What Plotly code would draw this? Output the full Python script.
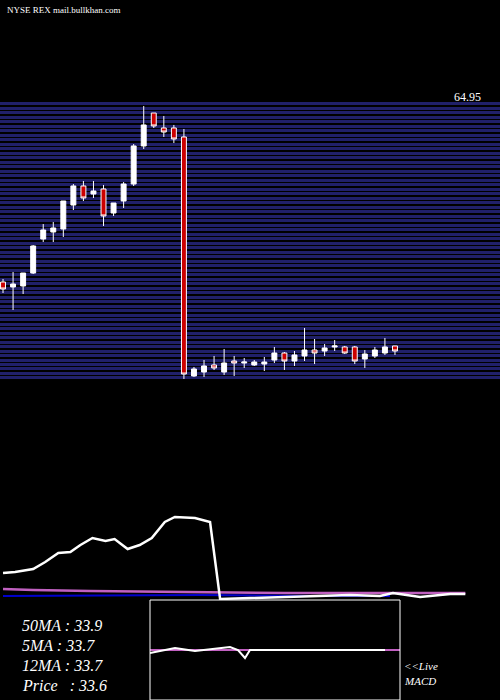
import plotly.graph_objects as go

# daily candles
opens = [42.37, 41.73, 41.86, 43.53, 47.92, 48.82, 49.21, 52.30, 54.76, 53.72,
         54.37, 51.27, 52.82, 55.01, 59.92, 64.17, 62.24, 62.24, 61.08, 30.25,
         30.76, 31.67, 30.76, 32.18, 31.92, 31.67, 31.79, 32.31, 33.21, 32.18,
         32.83, 33.60, 33.47, 33.99, 33.99, 33.99, 32.44, 32.83, 33.21, 34.12]
closes = [41.47, 42.11, 43.53, 47.02, 49.08, 49.34, 52.82, 54.76, 53.21, 54.11,
          50.89, 52.56, 55.01, 59.92, 62.63, 62.50, 61.72, 60.82, 30.50, 31.15,
          31.54, 31.28, 31.92, 31.92, 32.05, 32.05, 32.05, 33.21, 32.18, 32.96,
          33.60, 33.21, 33.86, 34.12, 33.21, 32.18, 33.08, 33.60, 33.99, 33.47]
highs = [42.76, 43.66, 43.53, 47.14, 49.85, 50.11, 52.82, 55.01, 55.40, 55.40,
         54.89, 52.56, 55.27, 60.17, 65.08, 64.17, 63.79, 62.63, 62.11, 31.41,
         32.31, 32.83, 33.73, 32.83, 32.57, 32.31, 32.70, 33.99, 33.34, 33.47,
         36.44, 35.02, 34.37, 34.89, 34.12, 34.12, 33.60, 33.99, 35.15, 34.12]
lows = [40.95, 38.76, 40.82, 43.40, 47.53, 47.53, 48.18, 51.66, 52.82, 53.21,
        49.60, 50.89, 51.92, 54.76, 59.53, 62.24, 61.08, 60.30, 29.86, 30.12,
        30.12, 31.02, 30.38, 30.25, 31.28, 31.54, 30.89, 31.92, 31.02, 31.54,
        32.18, 31.79, 32.83, 33.47, 33.08, 31.79, 31.28, 32.57, 32.96, 32.96]

# lower panel moving averages (unitless indicator scale)
ma_x = [0, 1.2, 3, 4.2, 5.5, 6.7, 7.7, 8.9, 10.2, 11.1, 12.4, 13.6, 14.8, 16.1,
        17.1, 19.1, 20.6, 21.6, 24.6, 28.6, 31.5, 34.5, 37.5, 38.8, 41.5, 44.5, 46]
ma_white = [63.5, 64, 65.5, 69, 73.5, 74, 77.5, 81, 79.5, 80.5, 75.5, 77.5, 81, 89,
            91.5, 91, 89, 50.5, 51, 51.5, 52, 52.5, 52, 53.5, 51.5, 53, 53]
ma_purple_x = [0, 3, 8.7, 21.6, 28, 46]
ma_purple = [55.5, 55, 54.5, 54, 53.5, 53.5]
ma_blue_x = [0, 19.6, 31, 38.5]
ma_blue = [52, 52.5, 52, 52]

# MACD inset
macd_x = [0, 2.5, 4.5, 8, 8.8, 9.5, 10, 23.5]
macd = [-0.06, 0.04, -0.02, 0.06, 0, -0.16, 0, 0]
signal_x = [0, 25]
signal = [0, 0]

labels = ["50MA : 33.9", "5MA : 33.7", "12MA : 33.7", "Price   : 33.6"]

fig = go.Figure()
fig.add_trace(go.Candlestick(
    x=list(range(len(opens))), open=opens, high=highs, low=lows, close=closes,
    increasing=dict(fillcolor="white", line=dict(color="white", width=1)),
    decreasing=dict(fillcolor="#cc0000", line=dict(color="white", width=1)),
    whiskerwidth=0, showlegend=False, xaxis="x", yaxis="y"))

fig.add_trace(go.Scatter(x=ma_purple_x, y=ma_purple, mode="lines",
                         line=dict(color="#c060c0", width=2.5), xaxis="x2", yaxis="y2"))
fig.add_trace(go.Scatter(x=ma_blue_x, y=ma_blue, mode="lines",
                         line=dict(color="#0000cc", width=2), xaxis="x2", yaxis="y2"))
fig.add_trace(go.Scatter(x=ma_x, y=ma_white, mode="lines",
                         line=dict(color="white", width=2.5), xaxis="x2", yaxis="y2"))

fig.add_trace(go.Scatter(x=signal_x, y=signal, mode="lines",
                         line=dict(color="#c060c0", width=2), xaxis="x3", yaxis="y3"))
fig.add_trace(go.Scatter(x=macd_x, y=macd, mode="lines",
                         line=dict(color="white", width=2), xaxis="x3", yaxis="y3"))

noax = dict(showgrid=False, zeroline=False, showticklabels=False, fixedrange=True)
fig.update_layout(
    width=500, height=700, margin=dict(l=0, r=0, t=0, b=0),
    paper_bgcolor="black", plot_bgcolor="black", showlegend=False,
    xaxis=dict(domain=[0, 1], range=[-0.3, 49.45], rangeslider=dict(visible=False), **noax),
    yaxis=dict(domain=[1 - 380 / 700, 1 - 100 / 700], range=[29.73, 65.85],
               showgrid=True, gridcolor="#20206a", gridwidth=2.5, tick0=29.99, dtick=0.58,
               zeroline=False, showticklabels=False, fixedrange=True),
    xaxis2=dict(domain=[0, 1], range=[-0.3, 49.45], anchor="y2", **noax),
    yaxis2=dict(domain=[0, 1 - 500 / 700], range=[0, 100], anchor="x2", **noax),
    xaxis3=dict(domain=[0.3, 0.8], range=[0, 25], anchor="y3", **noax),
    yaxis3=dict(domain=[0, 1 - 600 / 700], range=[-1, 1], anchor="x3", **noax),
    shapes=[dict(type="rect", xref="paper", yref="paper", x0=0.3, x1=0.8, y0=0,
                 y1=1 - 600 / 700, line=dict(color="white", width=1))],
)

ann = [dict(text="NYSE REX mail.bullkhan.com", x=5, y=10, size=9, anchor="left"),
       dict(text="64.95", x=452, y=97, size=12, anchor="left")]
for i, t in enumerate(labels):
    ann.append(dict(text="<i>" + t + "</i>", x=20, y=625 + 20 * i, size=16, anchor="left"))
ann.append(dict(text="<i><<Live</i>", x=402, y=666, size=11, anchor="left"))
ann.append(dict(text="<i>MACD</i>", x=402, y=681, size=11, anchor="left"))
for a in ann:
    fig.add_annotation(text=a["text"], x=a["x"] / 500, y=1 - a["y"] / 700,
                       xref="paper", yref="paper", xanchor=a["anchor"], yanchor="middle",
                       showarrow=False,
                       font=dict(family="Liberation Serif", size=a["size"], color="white"))

fig.write_html("out.html", config={"displayModeBar": False},
               post_script="document.body.style.margin='0';")
